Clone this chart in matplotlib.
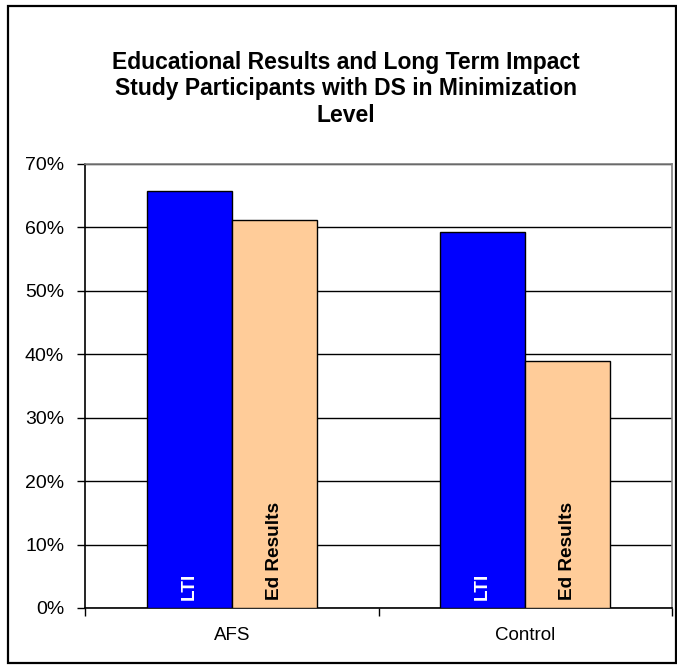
import matplotlib.pyplot as plt
import numpy as np
from matplotlib.patches import Rectangle

plt.rcParams['font.family'] = ['Liberation Sans', 'DejaVu Sans']

# data
groups = ['AFS', 'Control']
series = ['LTI', 'Ed Results']
lti = [0.657, 0.593]
ed_results = [0.611, 0.390]
yticks = [0, 0.1, 0.2, 0.3, 0.4, 0.5, 0.6, 0.7]

W, H = 677, 669
fig = plt.figure(figsize=(W / 100, H / 100), dpi=100)
ax = fig.add_axes([85 / W, 1 - 608 / H, (672 - 85) / W, (608 - 164) / H])

# figure border
fig.patches.append(Rectangle((8 / W, 1 - 663 / H), (676 - 8) / W, (663 - 6) / H,
                             transform=fig.transFigure, fill=False,
                             edgecolor='black', linewidth=1.6))

x = np.arange(len(groups))
w = 0.29
ax.bar(x - w / 2, lti, w, color='#0000FF', edgecolor='black', linewidth=1, zorder=3)
ax.bar(x + w / 2, ed_results, w, color='#FFCC99', edgecolor='black', linewidth=1, zorder=3)

# labels inside bars
for xi in x:
    ax.text(xi - w / 2, 0.013, series[0], rotation=90, ha='center', va='bottom',
            color='white', fontsize=13.7, fontweight='bold', zorder=4)
    ax.text(xi + w / 2, 0.013, series[1], rotation=90, ha='center', va='bottom',
            color='black', fontsize=13.7, fontweight='bold', zorder=4)

ax.set_ylim(0, 0.7)
ax.set_xlim(-0.5, len(groups) - 0.5)
ax.set_yticks(yticks)
ax.set_yticklabels(['%d%%' % round(v * 100) for v in yticks], fontsize=14)
ax.yaxis.grid(True, color='black', linewidth=1, zorder=0)

# category labels between boundary ticks
ax.set_xticks(np.arange(-0.5, len(groups), 1.0))
ax.set_xticklabels([])
ax.set_xticks(x, minor=True)
ax.set_xticklabels(groups, minor=True, fontsize=13.5)
ax.tick_params(axis='x', which='minor', length=0, pad=14)
ax.tick_params(axis='x', which='major', length=6, width=1, direction='out')
ax.tick_params(axis='y', length=6, width=1, direction='out', pad=9)

ax.spines['left'].set_color('black')
ax.spines['bottom'].set_color('black')
ax.spines['top'].set_color('#808080')
ax.spines['right'].set_color('#808080')
for s in ax.spines.values():
    s.set_linewidth(1.2)

fig.text(346 / W, 1 - 89 / H,
         'Educational Results and Long Term Impact\nStudy Participants with DS in Minimization\nLevel',
         ha='center', va='center', fontsize=16.5, fontweight='bold', linespacing=1.2)

fig.savefig('out.png', dpi=100)
